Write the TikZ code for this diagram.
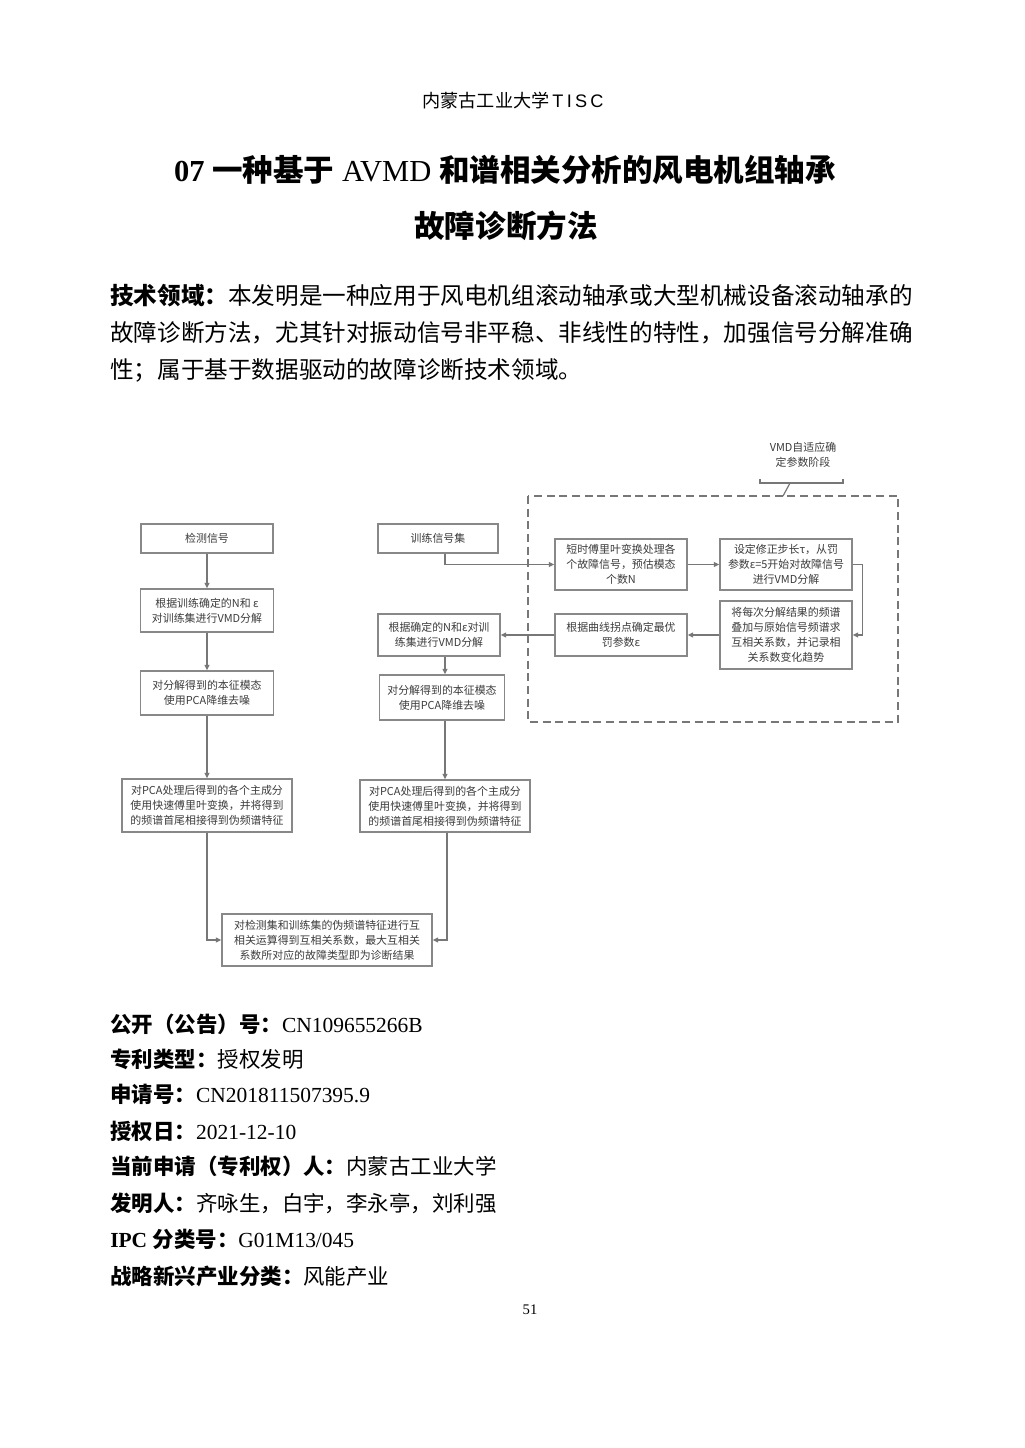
\documentclass[tikz,border=0pt]{standalone}
\usepackage{fontspec}
\setmainfont{Liberation Serif}
\newfontfamily\cjk{Noto Sans CJK SC}
\newfontfamily\hdrlat[LetterSpace=18]{Liberation Sans}
\usetikzlibrary{arrows.meta}
\definecolor{boxgray}{HTML}{888888}
\definecolor{linegray}{HTML}{777777}
\definecolor{boxtext}{HTML}{3C3C3C}
\tikzset{
  flowbox/.style={draw=boxgray, line width=1.1pt, fill=white, align=center, inner sep=0pt,
    text=boxtext, font={\cjk\fontsize{8.2}{11.2}\selectfont}},
  flowline/.style={draw=linegray, line width=0.9pt},
  flowarrow/.style={flowline, -{Triangle[length=4pt,width=3.6pt]}},
  bodyline/.style={anchor=west, inner sep=0pt, font={\fontsize{17.7}{20}\selectfont}},
  infoline/.style={anchor=west, inner sep=0pt, font={\fontsize{16.1}{18}\selectfont}},
}
\begin{document}
\begin{tikzpicture}[x=0.75pt,y=-0.75pt]
\useasboundingbox (0,0) rectangle (1024,1448);
\fill[white] (0,0) rectangle (1024,1448);

% header and title
\node[inner sep=0pt] (hdr) at (513,101) {\fontsize{13.6}{15}\selectfont{\cjk 内蒙古工业大学}\,{\hdrlat TISC}};
\node[inner sep=0pt] (t1) at (505,170) {\fontsize{22.9}{26}\selectfont\textbf{07} {\cjk\bfseries 一种基于} AVMD {\cjk\bfseries 和谱相关分析的风电机组轴承}};
\node[inner sep=0pt] (t2) at (506,226) {\fontsize{22.9}{26}\selectfont{\cjk\bfseries 故障诊断方法}};

% body paragraph
\node[bodyline] (p1) at (110,296) {\cjk{\bfseries 技术领域：}本发明是一种应用于风电机组滚动轴承或大型机械设备滚动轴承的};
\node[bodyline] (p2) at (110,333) {\cjk 故障诊断方法，尤其针对振动信号非平稳、非线性的特性，加强信号分解准确};
\node[bodyline] (p3) at (110,370) {\cjk 性；属于基于数据驱动的故障诊断技术领域。};

% dashed stage frame and brace label
\draw[draw=linegray, line width=0.9pt, dash pattern=on 6pt off 3.5pt] (528,496) rectangle (898,722);
\node[inner sep=0pt, align=center, text=boxtext, font={\cjk\fontsize{8.2}{11.2}\selectfont}] (stage) at (803,455) {VMD自适应确\\定参数阶段};
\coordinate (brl) at (760,479);
\coordinate (brr) at (843,479);
\coordinate (brm) at (790,483);
\coordinate (brt) at (783,496);
\draw[flowline] (brl) -- (760,483) -- (843,483) -- (brr);
\draw[flowline] (brm) -- (brt);

% left column
\node[flowbox, minimum width=99pt, minimum height=21.75pt] (L1) at (207,538.5) {检测信号};
\node[flowbox, minimum width=99.75pt, minimum height=32.25pt] (L2) at (207,610.5) {根据训练确定的N和 ε\\对训练集进行VMD分解};
\node[flowbox, minimum width=99.75pt, minimum height=33pt] (L3) at (207,693) {对分解得到的本征模态\\使用PCA降维去噪};
\node[flowbox, minimum width=127.5pt, minimum height=39.75pt] (L4) at (207,805.5) {对PCA处理后得到的各个主成分\\使用快速傅里叶变换，并将得到\\的频谱首尾相接得到伪频谱特征};

% final box
\node[flowbox, minimum width=157.5pt, minimum height=39pt] (F) at (327,940) {对检测集和训练集的伪频谱特征进行互\\相关运算得到互相关系数，最大互相关\\系数所对应的故障类型即为诊断结果};

% middle column
\node[flowbox, minimum width=90pt, minimum height=21.75pt] (M1) at (438,538.5) {训练信号集};
\node[flowbox, minimum width=91.5pt, minimum height=31.5pt] (M2) at (439,635) {根据确定的N和ε对训\\练集进行VMD分解};
\node[flowbox, minimum width=93.75pt, minimum height=33.75pt] (M3) at (442,697.5) {对分解得到的本征模态\\使用PCA降维去噪};
\node[flowbox, minimum width=127.5pt, minimum height=39pt] (M4) at (445,806) {对PCA处理后得到的各个主成分\\使用快速傅里叶变换，并将得到\\的频谱首尾相接得到伪频谱特征};

% adaptive stage boxes
\node[flowbox, minimum width=99pt, minimum height=38.25pt] (A) at (621,564.5) {短时傅里叶变换处理各\\个故障信号，预估模态\\个数N};
\node[flowbox, minimum width=99pt, minimum height=38.25pt] (B) at (786,564.5) {设定修正步长τ，从罚\\参数ε=5开始对故障信号\\进行VMD分解};
\node[flowbox, minimum width=99pt, minimum height=51pt] (C) at (786,635) {将每次分解结果的频谱\\叠加与原始信号频谱求\\互相关系数，并记录相\\关系数变化趋势};
\node[flowbox, minimum width=99pt, minimum height=31.5pt] (D) at (621,635) {根据曲线拐点确定最优\\罚参数ε};

% connectors left
\draw[flowarrow] (L1) -- (L2);
\draw[flowarrow] (L2) -- (L3);
\draw[flowarrow] (L3) -- (L4);
\draw[flowarrow] (L4.south) |- (F.west);

% connectors middle / stage
\draw[flowarrow] ([xshift=5.25pt]M1.south) |- (A.west);
\draw[flowarrow] (A.east) -- (B.west);
\draw[flowarrow] (B.east) -- ++(10,0) |- (C.east);
\draw[flowarrow] (C.west) -- (D.east);
\draw[flowarrow] (D.west) -- (M2.east);
\draw[flowarrow] ([xshift=4.5pt]M2.south) -- ([xshift=2.25pt]M3.north);
\draw[flowarrow] ([xshift=2.25pt]M3.south) -- (M4.north);
\draw[flowarrow] ([xshift=1.5pt]M4.south) |- (F.east);

% info lines
\node[infoline] (i1) at (110,1024) {{\cjk\bfseries 公开（公告）号：}CN109655266B};
\node[infoline] (i2) at (110,1059) {{\cjk\bfseries 专利类型：}{\cjk 授权发明}};
\node[infoline] (i3) at (110,1094) {{\cjk\bfseries 申请号：}CN201811507395.9};
\node[infoline] (i4) at (110,1131) {{\cjk\bfseries 授权日：}2021-12-10};
\node[infoline] (i5) at (110,1166) {{\cjk\bfseries 当前申请（专利权）人：}{\cjk 内蒙古工业大学}};
\node[infoline] (i6) at (110,1203) {{\cjk\bfseries 发明人：}{\cjk 齐咏生，白宇，李永亭，刘利强}};
\node[infoline] (i7) at (110,1239) {\textbf{IPC} {\cjk\bfseries 分类号：}G01M13/045};
\node[infoline] (i8) at (110,1276) {{\cjk\bfseries 战略新兴产业分类：}{\cjk 风能产业}};

\node[inner sep=0pt, font={\fontsize{11}{13}\selectfont}] (pg) at (530,1310) {51};
\end{tikzpicture}
\end{document}
